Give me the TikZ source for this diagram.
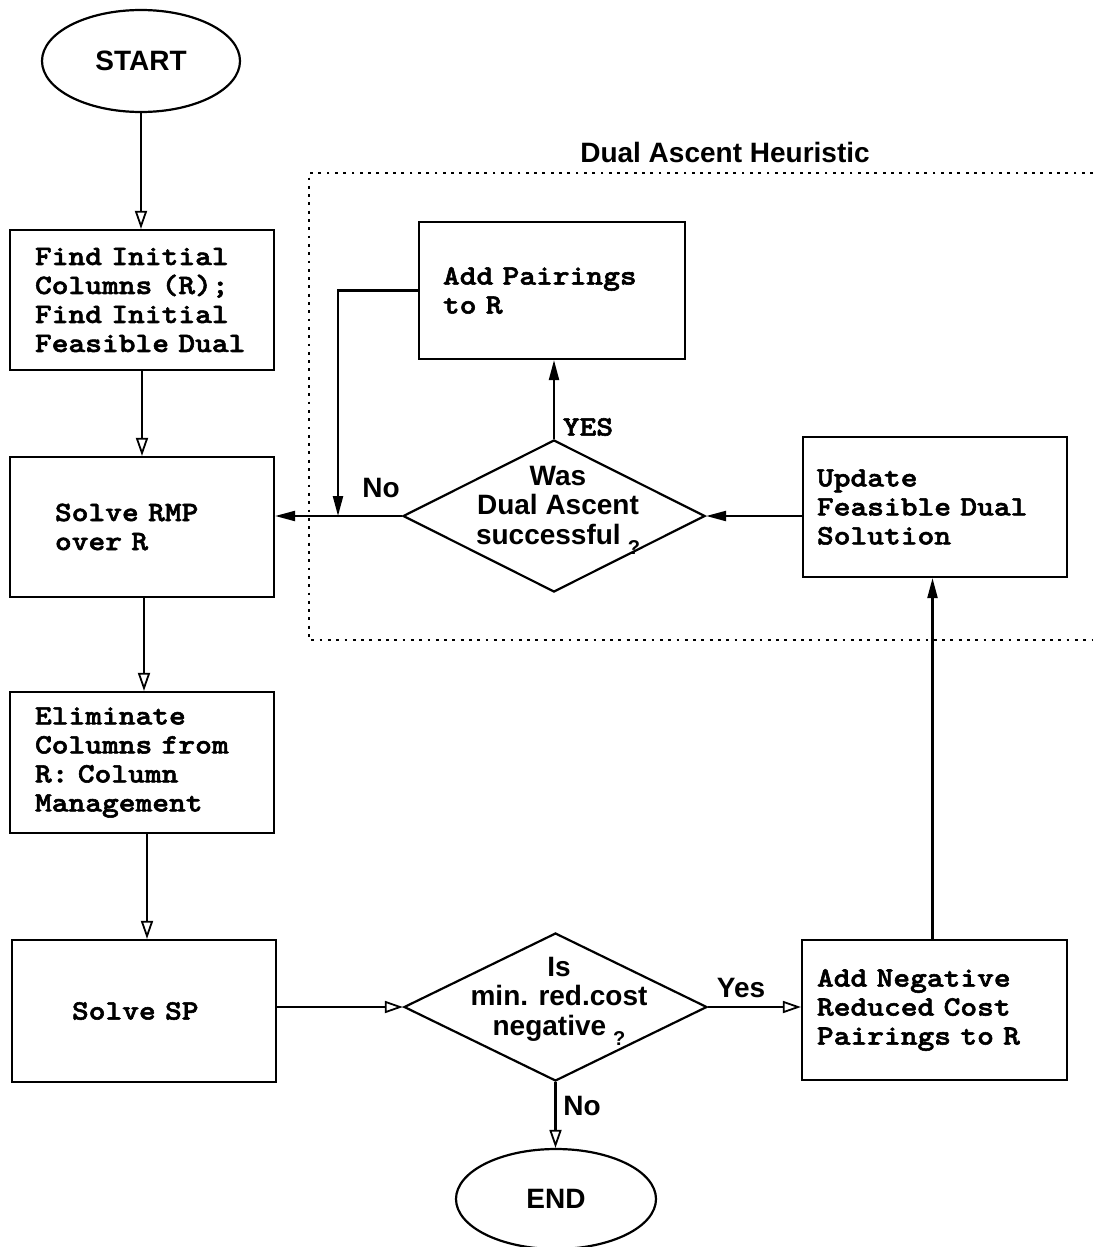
\documentclass[tikz,border=0pt]{standalone}
\usepackage{fontspec}
\setmainfont{Liberation Sans}
\newfontfamily\typewriterbold{lmmonolt10-bold}[Extension=.otf, FakeStretch=1.14, FakeBold=2]
\usetikzlibrary{shapes.geometric,arrows.meta}

\tikzset{
  lw/.style={line width=2.2pt},
  boxfont/.style={font=\typewriterbold\fontsize{28}{29}\selectfont},
  sansfont/.style={font=\bfseries\fontsize{28}{29.5}\selectfont},
  procbox/.style={draw, lw, rectangle, align=left, boxfont,
    inner ysep=2pt, minimum height=#1},
  procbox/.default=140pt,
  decision/.style={draw, lw, diamond, inner sep=0pt},
  terminal/.style={draw, lw, ellipse, inner sep=0pt, sansfont},
  dtext/.style={align=center, sansfont, inner sep=0pt},
  lbl/.style={sansfont, inner sep=0pt},
  openarr/.style={lw, -{Triangle[open,length=18pt,width=12pt,line width=1.8pt]}},
  fillarr/.style={lw, -{Triangle[length=20pt,width=10pt]}},
  dotline/.style={line width=2.8pt, dash pattern=on 2.8pt off 5.5pt},
}

\newcommand{\smallq}{\hspace{7pt}\raisebox{-10pt}{\fontsize{20}{20}\selectfont ?}}

\begin{document}
\begin{tikzpicture}[x=1pt,y=-1pt]
\useasboundingbox (0,0) rectangle (1093,1247);

% heuristic region
\draw[dotline] (1093,173) -- (309,173) -- (309,640) -- (1093,640);
\node[lbl] (hlabel) at (725,152) {Dual Ascent Heuristic};

% terminals
\node[terminal, minimum width=198pt, minimum height=102pt] (start) at (141,61) {START};
\node[terminal, minimum width=200pt, minimum height=100pt] (end) at (556,1199) {END};

% main column
\node[procbox, inner xsep=25pt, text width=214pt] (b1) at (142,300)
  {Find Initial\\Columns (R);\\Find Initial\\Feasible Dual};
\node[procbox, inner xsep=45pt, text width=174pt] (b2) at (142,527)
  {Solve RMP\\over R};
\node[procbox=141pt, inner xsep=25pt, text width=214pt] (b3) at (142,762.5)
  {Eliminate\\Columns from\\R: Column\\Management};
\node[procbox=142pt, inner xsep=60pt, text width=144pt] (b4) at (144,1011)
  {Solve SP};

% right side
\node[procbox=137pt, inner xsep=24pt, text width=218pt] (addp) at (552,290.5)
  {Add Pairings\\to R};
\node[procbox, inner xsep=14pt, text width=236pt] (upd) at (935,507)
  {Update\\Feasible Dual\\Solution};
\node[procbox, inner xsep=15pt, text width=235pt] (addn) at (934.5,1010)
  {Add Negative\\Reduced Cost\\Pairings to R};

% decisions
\node[decision, minimum width=302pt, minimum height=152pt] (d1) at (554,516) {};
\node[dtext] (d1t) at (558,510) {Was\\Dual Ascent\\successful\smallq};
\node[decision, minimum width=303pt, minimum height=148pt] (d2) at (555.5,1007) {};
\node[dtext] (d2t) at (559,1001) {Is\\min. red.cost\\negative\smallq};

% branch labels
\node[lbl] (nolbl1) at (381,488) {No};
\node[boxfont, inner sep=0pt] (yeslbl1) at (588,427) {YES};
\node[lbl] (yeslbl2) at (741,988) {Yes};
\node[lbl] (nolbl2) at (582,1106) {No};

% main flow
\draw[openarr] (start.south) -- (start.south |- b1.north);
\draw[openarr] (b1.south) -- (b2.north);
\draw[openarr] ([xshift=2pt]b2.south) -- ([xshift=2pt]b3.north);
\draw[openarr] ([xshift=5pt]b3.south) -- ([xshift=3pt]b4.north);
\draw[openarr] (b4.east |- d2.west) -- (d2.west);
\draw[openarr] (d2.east) -- (d2.east -| addn.west);
\draw[openarr] (d2.south) -- (d2.south |- end.north);

% dual ascent loop
\draw[fillarr] ([xshift=-2pt]addn.north) -- ([xshift=-2pt]addn.north |- upd.south);
\draw[fillarr] (upd.west |- d1.east) -- (d1.east);
\draw[fillarr] (d1.north) -- (d1.north |- addp.south);
\draw[fillarr] (d1.west) -- (d1.west -| b2.east);
\coordinate (join) at (338,516);
\draw[fillarr] (addp.west) -| (join);
\end{tikzpicture}
\end{document}
